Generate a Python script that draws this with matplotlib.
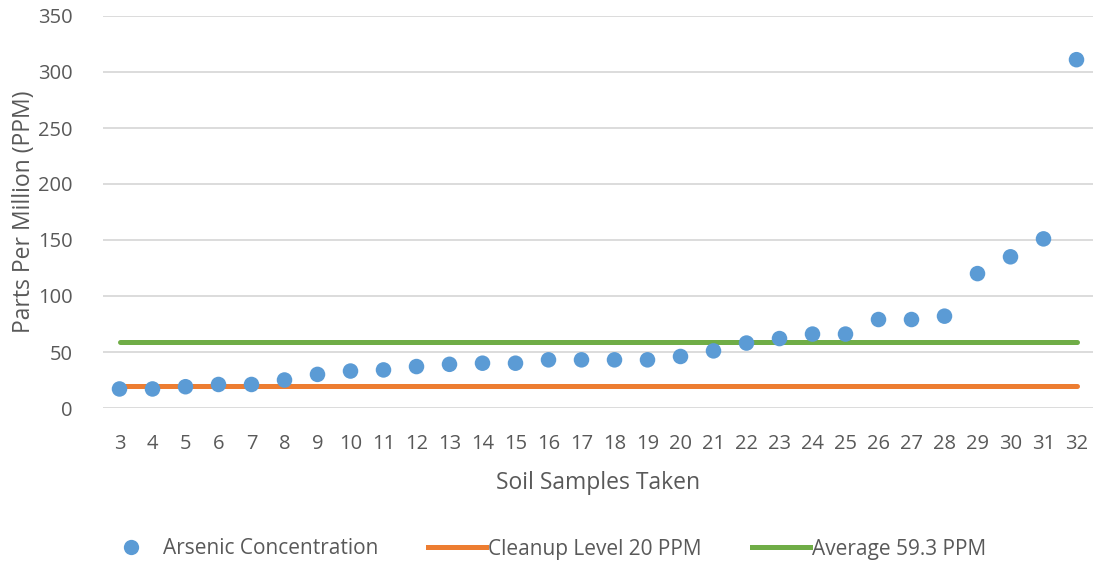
import matplotlib
matplotlib.use("Agg")
import matplotlib.pyplot as plt
from matplotlib.lines import Line2D

samples = list(range(3, 33))
arsenic_ppm = [17, 17, 19, 21, 21, 25, 30, 33, 34, 37, 39, 40, 40, 43, 43,
               43, 43, 46, 51, 58, 62, 66, 66, 79, 79, 82, 120, 135, 151, 311]
cleanup_level = 20
average_level = 59.3

y_ticks = [0, 50, 100, 150, 200, 250, 300, 350]

BLUE = "#5B9BD5"
ORANGE = "#ED7D31"
GREEN = "#70AD47"
TEXT = "#595959"
GRID = "#D9D9D9"

plt.rcParams["font.family"] = ["Open Sans", "DejaVu Sans"]

fig = plt.figure(figsize=(10.93, 5.67), dpi=100)
ax = fig.add_axes([103 / 1093, 1 - 408 / 567, 990 / 1093, 392 / 567])

ax.plot([samples[0], samples[-1]], [cleanup_level] * 2, color=ORANGE,
        lw=3.6, solid_capstyle="round", zorder=2)
ax.plot([samples[0], samples[-1]], [average_level] * 2, color=GREEN,
        lw=3.6, solid_capstyle="round", zorder=2)
ax.scatter(samples, arsenic_ppm, s=125, color=BLUE, edgecolors="none", zorder=3)

ax.set_xlim(2.5, 32.5)
ax.set_ylim(0, 350)
ax.set_yticks(y_ticks)
ax.set_xticks(samples)
ax.set_xticklabels([str(s) for s in samples])
ax.yaxis.grid(True, color=GRID, lw=1.3)
ax.set_axisbelow(True)
for sp in ax.spines.values():
    sp.set_visible(False)
ax.tick_params(axis="both", length=0, colors=TEXT, labelsize=14.5)
ax.tick_params(axis="x", pad=19)
ax.tick_params(axis="y", pad=22)

ax.set_xlabel("Soil Samples Taken", color=TEXT, fontsize=16.5, labelpad=12)
ax.set_ylabel("Parts Per Million (PPM)", color=TEXT, fontsize=16.5, labelpad=1)

handles = [
    Line2D([], [], ls="none", marker="o", markersize=11, color=BLUE,
           markeredgecolor="none"),
    Line2D([], [], color=ORANGE, lw=3.6),
    Line2D([], [], color=GREEN, lw=3.6),
]
labels = ["Arsenic Concentration", "Cleanup Level 20 PPM", "Average 59.3 PPM"]
leg = fig.legend(handles, labels, loc="center", bbox_to_anchor=(0.498, 1 - 549 / 567),
                 ncol=3, frameon=False, fontsize=15, handlelength=2.8,
                 columnspacing=2.4, handletextpad=0.1)
for t in leg.get_texts():
    t.set_color(TEXT)

fig.savefig("out.png", dpi=100)
